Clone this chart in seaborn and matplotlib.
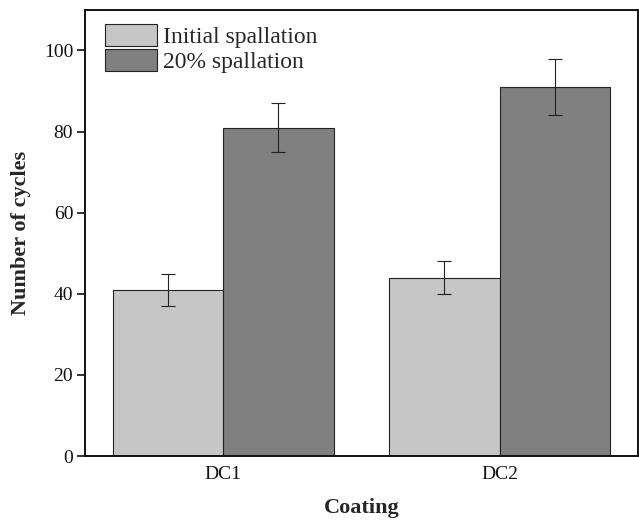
import matplotlib
matplotlib.use("Agg")
import matplotlib.pyplot as plt
import seaborn as sns
import pandas as pd

coatings = ["DC1", "DC2"]
series = ["Initial spallation", "20% spallation"]
initial_vals = [41, 44]
initial_err = [4, 4]
spall20_vals = [81, 91]
spall20_err = [6, 7]
colors = ["#c6c6c6", "#808080"]

df = pd.DataFrame({
    "Coating": coatings * 2,
    "Series": [series[0]] * 2 + [series[1]] * 2,
    "Cycles": initial_vals + spall20_vals,
})
errs = {series[0]: initial_err, series[1]: spall20_err}

sns.set_theme(style="white")
plt.rcParams["font.family"] = ["Liberation Serif", "DejaVu Serif"]

fig = plt.figure(figsize=(6.39, 5.2), dpi=100)
ax = fig.add_axes([0.133, 0.123, 0.865, 0.858])

sns.barplot(data=df, x="Coating", y="Cycles", hue="Series", order=coatings,
            hue_order=series, palette=colors, errorbar=None, width=0.8,
            edgecolor="#222222", linewidth=0.8, saturation=1, ax=ax)

for cont, s in zip(ax.containers, series):
    xs = [p.get_x() + p.get_width() / 2 for p in cont]
    ys = [p.get_height() for p in cont]
    ax.errorbar(xs, ys, yerr=errs[s], fmt="none", ecolor="#222222",
                elinewidth=0.8, capsize=5, capthick=0.8)

ax.set_ylim(0, 110)
ax.set_xlim(-0.5, 1.5)
ax.set_yticks([0, 20, 40, 60, 80, 100])
ax.tick_params(axis="y", direction="out", length=5.5, width=1.2, labelsize=14,
               colors="#111111", left=True, pad=3)
ax.tick_params(axis="x", length=0, labelsize=14, pad=7, colors="#111111")
for sp in ax.spines.values():
    sp.set_linewidth(1.4)
    sp.set_color("#111111")
ax.set_xlabel("Coating", fontsize=16, fontweight="bold", labelpad=11)
ax.set_ylabel("Number of cycles", fontsize=16, fontweight="bold", labelpad=9)

leg = ax.legend(loc="upper left", frameon=False, fontsize=17,
                handlelength=2.2, handleheight=1.05, labelspacing=0.05,
                handletextpad=0.25, borderaxespad=0.2,
                bbox_to_anchor=(0.01, 1.0))

fig.savefig("out.png", dpi=100)
